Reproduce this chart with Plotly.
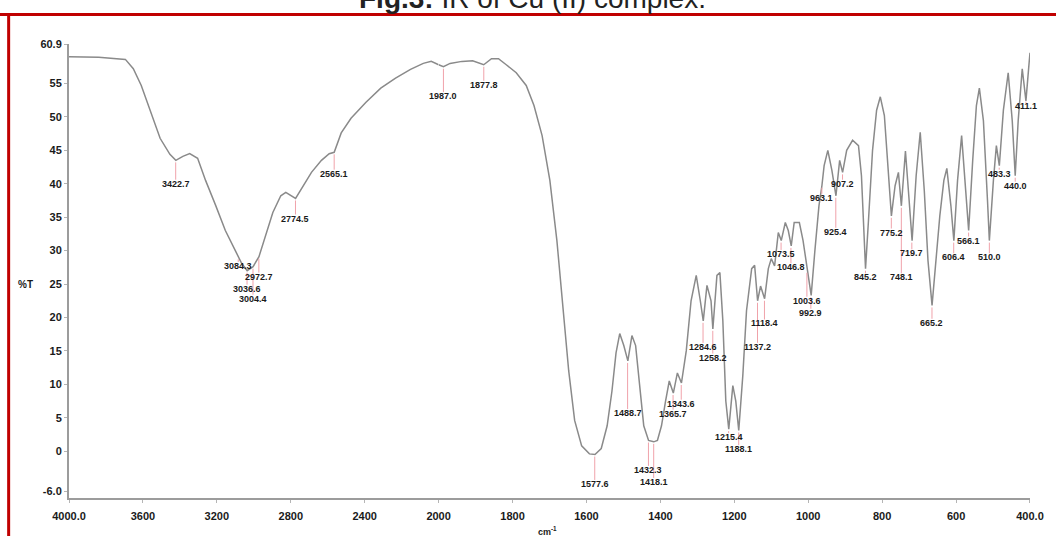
import plotly.graph_objects as go

# ---------------- data ----------------
wavenumber = [
    4000, 3839, 3695, 3652, 3609, 3561, 3507, 3454, 3422, 3384,
    3347, 3304, 3261, 3207, 3154, 3100, 3084, 3068, 3036, 3004,
    2972, 2940, 2897, 2854, 2827, 2774, 2742, 2688, 2634, 2592,
    2565, 2527, 2474, 2393, 2313, 2233, 2152, 2083, 2040, 2000,
    1987, 1969, 1937, 1908, 1878, 1857, 1838, 1817, 1790,
    1763, 1742, 1720, 1699, 1680, 1664, 1648, 1632, 1613, 1592,
    1577, 1560, 1544, 1531, 1520, 1510, 1499, 1488, 1477, 1467,
    1456, 1445, 1432, 1418, 1408, 1397, 1386, 1376, 1365, 1354,
    1343, 1330, 1317, 1303, 1292, 1284, 1274, 1263, 1258, 1247,
    1239, 1231, 1223, 1215, 1204, 1196, 1188, 1177, 1167, 1153,
    1145, 1137, 1129, 1118, 1108, 1100, 1091, 1081, 1073, 1062,
    1054, 1046, 1038, 1024, 1014, 1003, 992, 982, 971, 963,
    957, 947, 936, 925, 915, 907, 896, 880, 864, 856,
    850, 845, 837, 826, 815, 805, 794, 783, 775, 765,
    756, 748, 737, 727, 719, 708, 697, 686, 676, 665,
    655, 644, 633, 625, 614, 606, 596, 585, 574, 566,
    555, 545, 537, 526, 515, 510, 499, 491, 483, 472,
    459, 448, 440, 432, 421, 411, 403, 400,
]
transmittance = [
    59.0, 58.9, 58.6, 57.2, 54.7, 51.0, 46.8, 44.4, 43.5, 44.1,
    44.5, 43.8, 40.5, 36.8, 33.0, 30.0, 29.0, 28.2, 27.0, 27.6,
    29.1, 31.8, 35.7, 38.2, 38.7, 37.8, 39.3, 41.7, 43.5, 44.5,
    44.7, 47.6, 49.8, 52.2, 54.3, 55.8, 57.1, 58.0, 58.3, 57.8,
    57.5, 58.0, 58.3, 58.4, 57.8, 58.7, 58.7, 57.8, 56.6,
    54.7, 51.7, 47.2, 40.5, 31.5, 21.8, 12.0, 4.6, 0.8, -0.4,
    -0.5, 0.4, 3.8, 9.0, 14.7, 17.6, 15.8, 13.5, 17.3, 15.8,
    9.8, 3.8, 1.6, 1.4, 1.6, 3.8, 7.5, 10.5, 8.7, 11.7,
    10.2, 15.0, 22.5, 26.3, 22.5, 19.5, 24.8, 22.5, 18.3, 26.3,
    26.7, 19.5, 7.5, 3.3, 9.8, 7.5, 3.1, 11.3, 21.0, 27.3,
    27.8, 22.5, 24.7, 22.8, 27.3, 28.8, 27.7, 32.7, 31.5, 34.2,
    33.0, 30.7, 34.2, 34.2, 31.5, 27.0, 23.3, 30.0, 36.7, 39.7,
    42.7, 45.0, 42.0, 38.2, 43.5, 41.7, 45.0, 46.5, 45.7, 41.2,
    33.0, 27.3, 34.5, 45.0, 51.0, 53.0, 50.2, 41.2, 35.2, 39.7,
    41.7, 36.7, 44.9, 37.5, 31.5, 41.2, 47.7, 39.0, 28.5, 21.8,
    28.5, 35.2, 40.5, 42.3, 36.7, 31.5, 40.5, 47.2, 39.0, 33.0,
    43.5, 51.7, 54.3, 49.4, 37.5, 31.5, 40.5, 45.7, 42.7, 51.0,
    56.6, 49.4, 41.2, 49.4, 57.2, 52.4, 57.7, 59.6,
]

peak_wn = [3422.7, 3084.3, 3036.6, 3004.4, 2972.7, 2774.5, 2565.1, 1987.0,
           1877.8, 1577.6, 1488.7, 1432.3, 1418.1, 1365.7, 1343.6, 1284.6,
           1258.2, 1215.4, 1188.1, 1137.2, 1118.4, 1073.5, 1046.8, 1003.6,
           992.9, 963.1, 925.4, 907.2, 845.2, 775.2, 748.1, 719.7, 665.2,
           606.4, 566.1, 510.0, 483.3, 440.0, 411.1]
peak_T = [43.5, 29.0, 27.0, 27.6, 29.1, 37.8, 44.7, 57.5,
          57.8, -0.5, 13.5, 1.6, 1.4, 8.7, 10.2, 19.5,
          18.3, 3.3, 3.1, 22.5, 22.8, 31.5, 30.7, 27.0,
          23.3, 39.7, 38.2, 41.7, 27.3, 35.2, 36.7, 31.5, 21.8,
          31.5, 33.0, 31.5, 42.7, 41.2, 52.4]
label_T = [40.0, 27.7, 24.3, 22.8, 26.1, 34.8, 41.5, 53.1,
           54.8, -4.9, 5.7, -2.8, -4.6, 5.6, 7.1, 15.6,
           14.0, 2.1, 0.3, 15.6, 19.1, 29.5, 27.5, 22.5,
           20.7, 37.9, 32.8, 40.0, 26.0, 32.7, 26.0, 29.6, 19.2,
           29.0, 31.5, 29.0, 41.5, 39.7, 51.7]

x_ticks_high = [4000, 3600, 3200, 2800, 2400, 2000]
x_ticktext_high = ["4000.0", "3600", "3200", "2800", "2400", "2000"]
x_ticks_low = [1800, 1600, 1400, 1200, 1000, 800, 600, 400]
x_ticktext_low = ["1800", "1600", "1400", "1200", "1000", "800", "600", "400.0"]
y_ticks = [-6.0, 0, 5, 10, 15, 20, 25, 30, 35, 40, 45, 50, 55, 60.9]
y_ticktext = ["-6.0", "0", "5", "10", "15", "20", "25", "30", "35", "40",
              "45", "50", "55", "60.9"]

title_text = "<b>Fig.3:</b> IR of Cu (II) complex."

# ---------------- figure ----------------
CURVE = "#8a8a8a"
PINK = "#f0a2aa"
AXIS = "#9c9c9c"
TXT = "#1a1a1a"
FONT = "Liberation Sans, Arial, sans-serif"

fig = go.Figure()

hi = [(w, t) for w, t in zip(wavenumber, transmittance) if w >= 2000]
lo = [(w, t) for w, t in zip(wavenumber, transmittance) if w <= 2000]

for pts, xa in ((hi, "x"), (lo, "x2")):
    fig.add_trace(go.Scatter(
        x=[p[0] for p in pts], y=[p[1] for p in pts], xaxis=xa, yaxis="y",
        mode="lines", line=dict(color=CURVE, width=1.5),
        hoverinfo="skip", showlegend=False))

# pink marker lines from peak to its label
for xa, cond in (("x", lambda w: w >= 2000), ("x2", lambda w: w < 2000)):
    lx, ly = [], []
    for w, pt, lt in zip(peak_wn, peak_T, label_T):
        if cond(w):
            lx += [w, w, None]
            ly += [pt - 0.3, lt + 0.6, None]
    fig.add_trace(go.Scatter(
        x=lx, y=ly, xaxis=xa, yaxis="y", mode="lines",
        line=dict(color=PINK, width=1), hoverinfo="skip", showlegend=False))

annotations = []
for w, lt in zip(peak_wn, label_T):
    annotations.append(dict(
        x=w, y=lt, xref="x" if w >= 2000 else "x2", yref="y",
        text="<b>%.1f</b>" % w, showarrow=False,
        font=dict(family=FONT, size=9, color=TXT),
        xanchor="center", yanchor="middle"))

annotations.append(dict(
    x=-0.045, y=25, xref="paper", yref="y", text="<b>%T</b>",
    showarrow=False, font=dict(family=FONT, size=10, color=TXT),
    xanchor="center", yanchor="middle"))
annotations.append(dict(
    x=0.498, y=-0.072, xref="paper", yref="paper", text="<b>cm<sup>-1</sup></b>",
    showarrow=False, font=dict(family=FONT, size=9, color=TXT),
    xanchor="center", yanchor="middle"))
annotations.append(dict(
    x=0.482, y=1.062, xref="paper", yref="paper", text=title_text,
    showarrow=False, font=dict(family=FONT, size=28, color="#222222"),
    xanchor="center", yanchor="bottom"))

axis_common = dict(
    showline=True, linecolor=AXIS, linewidth=2, ticks="outside",
    ticklen=3, tickcolor="#b5b5b5", showgrid=False, zeroline=False,
    tickfont=dict(family=FONT, size=11, color=TXT))

fig.update_layout(
    width=1056, height=536, autosize=False,
    margin=dict(l=69, r=15, t=44, b=38),
    paper_bgcolor="white", plot_bgcolor="white",
    xaxis=dict(domain=[0, 5 / 13], range=[4000, 2000], anchor="y",
               tickvals=x_ticks_high, ticktext=["<b>%s</b>" % t for t in x_ticktext_high],
               ticklabelstandoff=4, **axis_common),
    xaxis2=dict(domain=[5 / 13, 1], range=[2000, 400], anchor="y",
                tickvals=x_ticks_low, ticktext=["<b>%s</b>" % t for t in x_ticktext_low],
                ticklabelstandoff=4, **axis_common),
    yaxis=dict(range=[-7.0, 60.9], anchor="x",
               tickvals=y_ticks, ticktext=["<b>%s</b>" % t for t in y_ticktext],
               **axis_common),
    annotations=annotations,
    shapes=[
        dict(type="line", xref="paper", yref="paper", x0=-0.09, x1=1.05,
             y0=1.0651, y1=1.0651, line=dict(color="#c00000", width=3)),
        dict(type="line", xref="paper", yref="paper", x0=-0.0628, x1=-0.0628,
             y0=1.0651, y1=-0.12, line=dict(color="#c00000", width=3)),
    ],
)

fig.write_html("out.html")
